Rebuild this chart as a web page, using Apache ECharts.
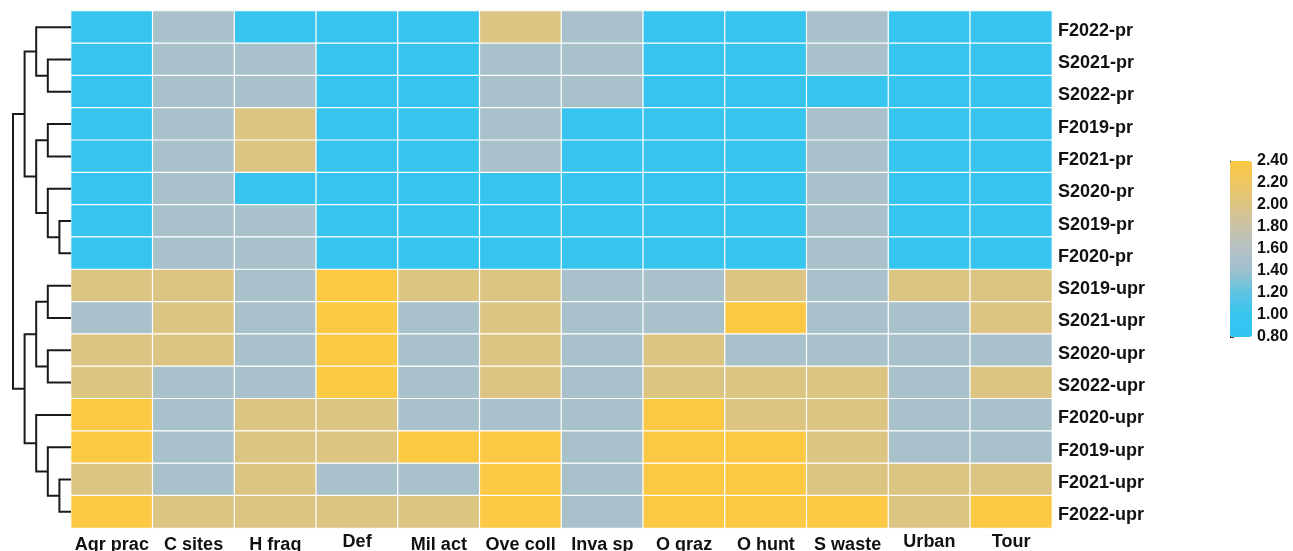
<!DOCTYPE html>
<html>
<head>
<meta charset="utf-8">
<script src="https://cdn.jsdelivr.net/npm/echarts@6/dist/echarts.min.js"></script>
<style>
html, body { margin: 0; padding: 0; background: #fff; }
#chart { width: 1293px; height: 551px; }
</style>
</head>
<body>
<div id="chart"></div>
<script>
// columns (threats) and rows (site/season groups), top to bottom
const colNames = ['Agr prac', 'C sites', 'H frag', 'Def', 'Mil act', 'Ove coll', 'Inva sp', 'O graz', 'O hunt', 'S waste', 'Urban', 'Tour']
const rowNames = ['F2022-pr', 'S2021-pr', 'S2022-pr', 'F2019-pr', 'F2021-pr', 'S2020-pr', 'S2019-pr', 'F2020-pr',
  'S2019-upr', 'S2021-upr', 'S2020-upr', 'S2022-upr', 'F2020-upr', 'F2019-upr', 'F2021-upr', 'F2022-upr']

// one array per row, same order as colNames
const cellValues = [
  [1, 1.5, 1, 1, 1, 2, 1.5, 1, 1, 1.5, 1, 1],
  [1, 1.5, 1.5, 1, 1, 1.5, 1.5, 1, 1, 1.5, 1, 1],
  [1, 1.5, 1.5, 1, 1, 1.5, 1.5, 1, 1, 1, 1, 1],
  [1, 1.5, 2, 1, 1, 1.5, 1, 1, 1, 1.5, 1, 1],
  [1, 1.5, 2, 1, 1, 1.5, 1, 1, 1, 1.5, 1, 1],
  [1, 1.5, 1, 1, 1, 1, 1, 1, 1, 1.5, 1, 1],
  [1, 1.5, 1.5, 1, 1, 1, 1, 1, 1, 1.5, 1, 1],
  [1, 1.5, 1.5, 1, 1, 1, 1, 1, 1, 1.5, 1, 1],
  [2, 2, 1.5, 2.4, 2, 2, 1.5, 1.5, 2, 1.5, 2, 2],
  [1.5, 2, 1.5, 2.4, 1.5, 2, 1.5, 1.5, 2.4, 1.5, 1.5, 2],
  [2, 2, 1.5, 2.4, 1.5, 2, 1.5, 2, 1.5, 1.5, 1.5, 1.5],
  [2, 1.5, 1.5, 2.4, 1.5, 2, 1.5, 2, 2, 2, 1.5, 2],
  [2.4, 1.5, 2, 2, 1.5, 1.5, 1.5, 2.4, 2, 2, 1.5, 1.5],
  [2.4, 1.5, 2, 2, 2.4, 2.4, 1.5, 2.4, 2.4, 2, 1.5, 1.5],
  [2, 1.5, 2, 1.5, 1.5, 2.4, 1.5, 2.4, 2.4, 2, 2, 2],
  [2.4, 2, 2, 2, 2, 2.4, 1.5, 2.4, 2.4, 2.4, 2, 2.4]
]

// row dendrogram, linkage style: [nodeA, nodeB, height]; leaves are 0..15, new nodes from 16
const merges = [
  [1, 2, 2], [0, 16, 3], [3, 4, 2], [6, 7, 1], [5, 19, 2], [18, 20, 3], [17, 21, 4],
  [8, 9, 2], [10, 11, 2], [23, 24, 3], [14, 15, 1], [13, 26, 2], [12, 27, 3], [25, 28, 4],
  [22, 29, 5]
]

const scaleMin = 0.8
const scaleMax = 2.4

// heatmap data
const heatData = []
cellValues.forEach((row, r) => {
  row.forEach((v, c) => heatData.push([c, r, v]))
})

// dendrogram segments: position of each node is mean of its children
const nodePos = rowNames.map((n, i) => i)
const nodeH = rowNames.map(() => 0)
const dendroData = []
merges.forEach(m => {
  const a = m[0], b = m[1], h = m[2]
  dendroData.push([nodePos[a], nodePos[b], nodeH[a], nodeH[b], h])
  nodePos.push((nodePos[a] + nodePos[b]) / 2)
  nodeH.push(h)
})

const font = "'Liberation Sans', Arial, sans-serif"

const myChart = echarts.init(document.getElementById('chart'))
myChart.setOption({
  animation: false,
  grid: [
    { left: 71, top: 11, width: 981, height: 517, containLabel: false, outerBoundsMode: 'none' },
    { left: 13, top: 11, width: 58, height: 517, containLabel: false, outerBoundsMode: 'none' },
    { left: 1230, top: 161, width: 22, height: 176, containLabel: false, outerBoundsMode: 'none' }
  ],
  xAxis: [
    {
      gridIndex: 0,
      type: 'category',
      data: colNames,
      axisLine: { show: false },
      axisTick: { show: false },
      splitLine: { show: false },
      axisLabel: {
        margin: 8,
        interval: 0,
        // labels without a gap sit a little higher, like in the original
        formatter: name => name.indexOf(' ') < 0 ? '{up|' + name + '}' : '{n|' + name + '}',
        rich: {
          n: { fontFamily: font, fontWeight: 'bold', fontSize: 18, color: '#111', lineHeight: 18 },
          up: { fontFamily: font, fontWeight: 'bold', fontSize: 18, color: '#111', lineHeight: 13 }
        }
      }
    },
    { gridIndex: 1, type: 'value', min: 0, max: 5, inverse: true, show: false },
    { gridIndex: 2, type: 'value', show: false }
  ],
  yAxis: [
    {
      gridIndex: 0,
      type: 'category',
      data: rowNames,
      inverse: true,
      position: 'right',
      axisLine: { show: false },
      axisTick: { show: false },
      splitLine: { show: false },
      axisLabel: {
        margin: 6,
        formatter: name => '{r|' + name + '}',
        rich: {
          r: { fontFamily: font, fontWeight: 'bold', fontSize: 18, color: '#111', padding: [7, 0, 0, 0] }
        }
      }
    },
    { gridIndex: 1, type: 'value', min: -0.5, max: 15.5, inverse: true, show: false },
    {
      gridIndex: 2,
      type: 'value',
      position: 'right',
      min: scaleMin,
      max: scaleMax,
      interval: 0.2,
      axisLine: { show: true, lineStyle: { color: '#333', width: 1 } },
      axisTick: { show: true, length: 4, lineStyle: { color: '#333' } },
      splitLine: { show: false },
      axisLabel: {
        margin: 5,
        fontFamily: font,
        fontWeight: 'bold',
        fontSize: 16,
        color: '#111',
        formatter: v => v.toFixed(2)
      }
    }
  ],
  visualMap: {
    type: 'continuous',
    seriesIndex: 0,
    min: scaleMin,
    max: scaleMax,
    calculable: false,
    orient: 'vertical',
    left: 1230,
    top: 161,
    padding: 0,
    itemWidth: 22,
    itemHeight: 176,
    text: null,
    showLabel: false,
    inRange: {
      color: ['#33C4F2', '#37C5F0', '#5EC3E3', '#9DC1CF', '#B5C1C5', '#C8C2A9', '#DCC482', '#EEC663', '#FCC944']
    }
  },
  series: [
    {
      type: 'heatmap',
      xAxisIndex: 0,
      yAxisIndex: 0,
      data: heatData,
      itemStyle: { borderColor: '#ffffff', borderWidth: 1.2 },
      emphasis: { disabled: true }
    },
    {
      type: 'custom',
      xAxisIndex: 1,
      yAxisIndex: 1,
      data: dendroData,
      silent: true,
      renderItem: (params, api) => {
        const yA = api.value(0), yB = api.value(1)
        const hA = api.value(2), hB = api.value(3), h = api.value(4)
        return {
          type: 'polyline',
          shape: {
            points: [
              api.coord([hA, yA]),
              api.coord([h, yA]),
              api.coord([h, yB]),
              api.coord([hB, yB])
            ]
          },
          style: { fill: null, stroke: '#1a1a1a', lineWidth: 2 }
        }
      }
    }
  ]
})
</script>
</body>
</html>
